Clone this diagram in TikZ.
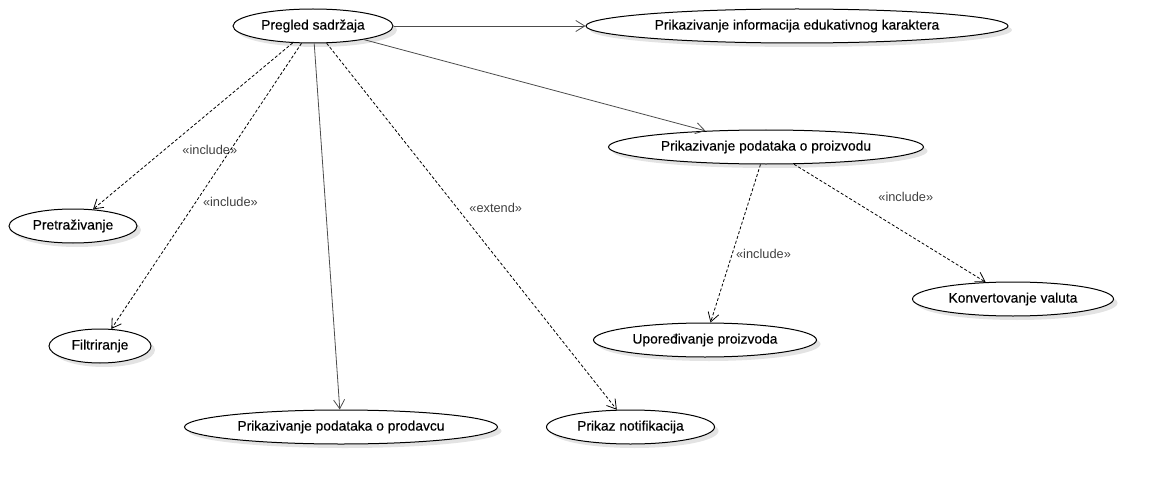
\documentclass[tikz,border=0pt]{standalone}
\usepackage{fontspec}
\setmainfont{Liberation Sans}
\newfontfamily\ucfamily[FakeBold=0.4]{Liberation Sans}
\usetikzlibrary{arrows.meta}
\usetikzlibrary{positioning}
\usetikzlibrary{shapes.geometric}
\usetikzlibrary{shadows}

\newcommand{\ucfont}{\ucfamily\fontsize{13.8}{16}\selectfont}
\newcommand{\lblfont}{\fontsize{12.8}{15}\selectfont}

\begin{document}
\begin{tikzpicture}[x=1pt,y=-1pt,->,>={Straight Barb[length=9pt,width=11pt]},
	line width=0.8pt,
	use case/.style={ellipse,draw=black,line width=1pt,fill=white,inner sep=0pt,
		minimum height=34pt,font=\ucfont,text=black,
		drop shadow={shadow xshift=4pt,shadow yshift=-4pt,fill=black!11,opacity=1,draw=none}},
	dep/.style={dash pattern=on 3pt off 2pt,draw=black},
	assoc/.style={draw=black!70}]

	\useasboundingbox (0,0) rectangle (1153,484);

	\node[use case,minimum width=160pt] (1) at (313,26) {Pregled sadržaja};
	\node[use case,minimum width=422pt] (2) [right=192pt of 1] {Prikazivanje informacija edukativnog karaktera};
	\node[use case,minimum width=315pt] (3) at (766,147) {Prikazivanje podataka o proizvodu};
	\node[use case,minimum width=128pt] (4) at (73,226) {Pretraživanje};
	\node[use case,minimum width=102pt] (5) at (100,346) {Filtriranje};
	\node[use case,minimum width=313pt] (6) at (341,427) {Prikazivanje podataka o prodavcu};
	\node[use case,minimum width=168pt] (7) [right=48pt of 6] {Prikaz notifikacija};
	\node[use case,minimum width=223pt] (8) at (705,340) {Upoređivanje proizvoda};
	\node[use case,minimum width=201pt] (9) at (1013,299) {Konvertovanje valuta};

	\path[every node/.style={font=\lblfont,text=black!75}]
		(1) edge [assoc] (2)
			edge [assoc] (3)
			edge [assoc] (6)
			edge [dep] node [xshift=17pt,yshift=-24pt] {«include»} (4)
			edge [dep] node [xshift=24pt,yshift=-16pt] {«include»} (5)
			edge [dep] node [xshift=24pt,yshift=19pt] {«extend»} (7)
		(3) edge [dep] node [xshift=28pt,yshift=-10pt] {«include»} (8)
			edge [dep] node [xshift=16pt,yshift=26pt] {«include»} (9);

\end{tikzpicture}
\end{document}
